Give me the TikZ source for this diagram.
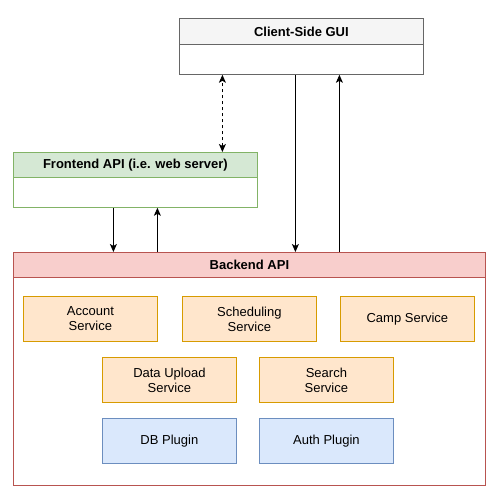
\documentclass[tikz,border=0pt]{standalone}
\usepackage{fontspec}
\setmainfont{Liberation Sans}
\usetikzlibrary{arrows.meta,positioning}

\definecolor{guifill}{HTML}{F5F5F5}
\definecolor{guiline}{HTML}{666666}
\definecolor{frontfill}{HTML}{D5E8D4}
\definecolor{frontline}{HTML}{82B366}
\definecolor{backfill}{HTML}{F8CECC}
\definecolor{backline}{HTML}{B85450}
\definecolor{svcfill}{HTML}{FFE6CC}
\definecolor{svcline}{HTML}{D79B00}
\definecolor{plugfill}{HTML}{DAE8FC}
\definecolor{plugline}{HTML}{6C8EBF}

\tikzset{
    box/.style = {draw, line width=0.8pt, anchor=north west, inner sep=0pt,
                  align=center, font=\fontsize{13}{15}\selectfont},
    lanehead/.style = {box, font=\fontsize{13}{15}\selectfont\bfseries,
                       minimum width=#1, minimum height=25pt},
    lanebody/.style = {box, fill=white, minimum width=#1},
    service/.style = {box, draw=svcline, fill=svcfill,
                      minimum width=134pt, minimum height=45pt},
    plugin/.style = {box, draw=plugline, fill=plugfill,
                     minimum width=134pt, minimum height=45pt},
    tip/.tip = {Stealth[length=8pt,width=7pt,inset=2pt]},
    link/.style = {line width=0.9pt, -tip},
}

\begin{document}
\begin{tikzpicture}[x=1pt, y=-1pt]
    \useasboundingbox (0,0) rectangle (501,502);

    % Client side
    \node[lanehead=244pt, draw=guiline, fill=guifill, minimum height=26pt] (guihead) at (179,18) {Client-Side GUI};
    \node[lanebody=244pt, draw=guiline, minimum height=30pt] (guibody) at (179,44) {};

    % Frontend
    \node[lanehead=244pt, draw=frontline, fill=frontfill] (fronthead) at (13,152) {Frontend API (i.e. web server)};
    \node[lanebody=244pt, draw=frontline, minimum height=30pt] (frontbody) at (13,177) {};

    % Backend container
    \node[lanehead=472pt, draw=backline, fill=backfill] (backhead) at (13,252) {Backend API};
    \node[lanebody=472pt, draw=backline, minimum height=208pt] (backbody) at (13,277) {};

    % services
    \node[service] (account) at (23,296)  {Account\\Service};
    \node[service] (sched)   at (182,296) {Scheduling\\Service};
    \node[service] (camp)    at (340,296) {Camp Service};
    \node[service] (upload)  at (102,357) {Data Upload\\Service};
    \node[service] (search)  at (259,357) {Search\\Service};

    % plugins
    \node[plugin] (db)   at (102,418) {DB Plugin};
    \node[plugin] (auth) at (259,418) {Auth Plugin};

    % connections
    \draw[link, tip-tip, dashed]
        ([xshift=87pt]fronthead.north) -- ([xshift=-79pt]guibody.south);
    \draw[link] ([xshift=-6pt]guibody.south) -- ([xshift=46pt]backhead.north);
    \draw[link] ([xshift=90pt]backhead.north) -- ([xshift=38pt]guibody.south);
    \draw[link] ([xshift=-22pt]frontbody.south) -- ([xshift=-136pt]backhead.north);
    \draw[link] ([xshift=-92pt]backhead.north) -- ([xshift=22pt]frontbody.south);

\end{tikzpicture}
\end{document}
